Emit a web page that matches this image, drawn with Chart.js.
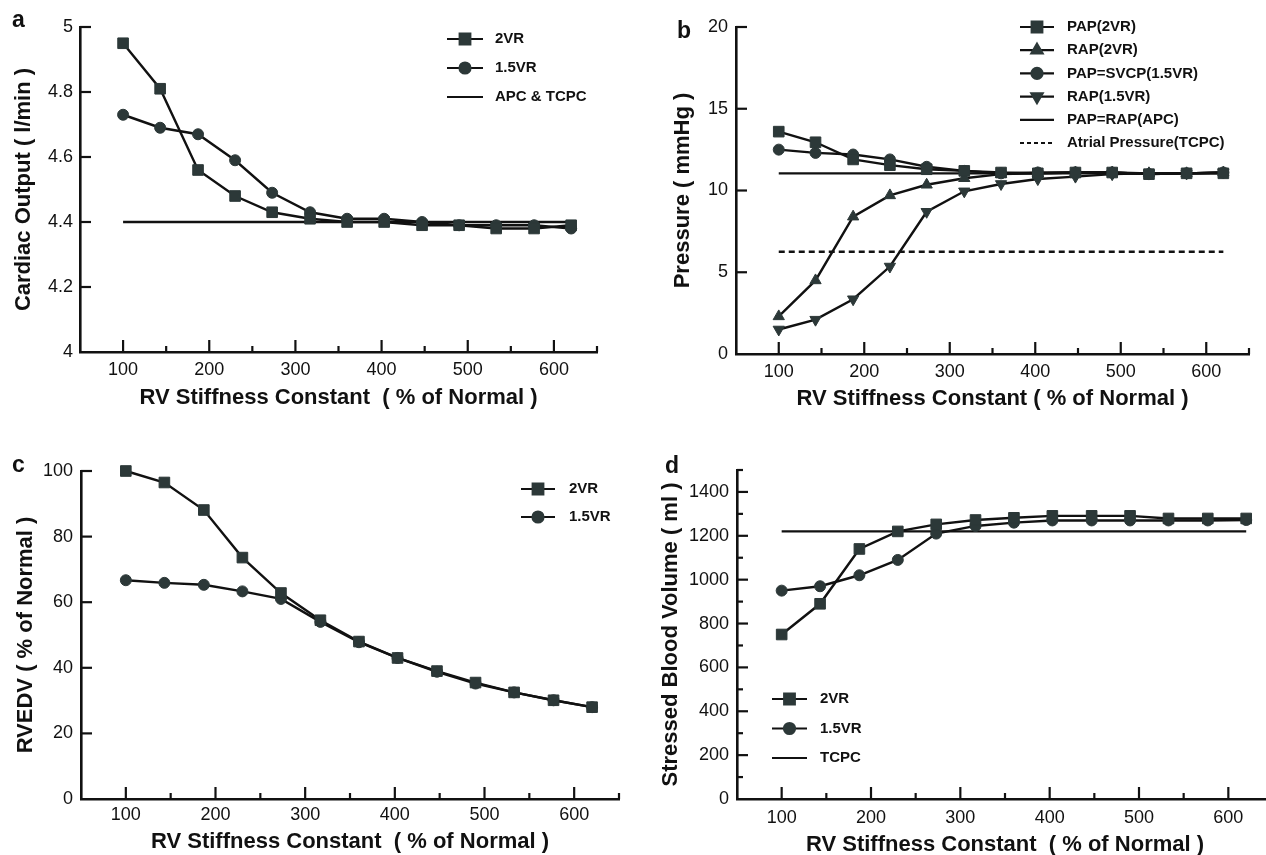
<!DOCTYPE html>
<html>
<head>
<meta charset="utf-8">
<script src="https://cdn.jsdelivr.net/npm/chart.js@4.4.1/dist/chart.umd.min.js"></script>
<style>
  html, body { margin: 0; padding: 0; background: #fff; overflow: hidden; width: 1266px; height: 855px; }
  .panel { position: absolute; }
  .tag { position: absolute; font: bold 23px 'Liberation Sans', Arial, sans-serif; color: #111; line-height: 26px; }
</style>
</head>
<body>
<div class="panel" style="left:0;top:0"><canvas id="chartA" width="633" height="425"></canvas></div>
<div class="panel" style="left:633px;top:0"><canvas id="chartB" width="633" height="425"></canvas></div>
<div class="panel" style="left:0;top:425px"><canvas id="chartC" width="633" height="430"></canvas></div>
<div class="panel" style="left:633px;top:425px"><canvas id="chartD" width="650" height="430"></canvas></div>
<div class="tag" style="left:12px;top:6px">a</div>
<div class="tag" style="left:677px;top:17px">b</div>
<div class="tag" style="left:12px;top:451px">c</div>
<div class="tag" style="left:665px;top:452px">d</div>

<script>
// RV stiffness constant (% of normal), shared by all four panels
const stiffness = [100, 143, 187, 230, 273, 317, 360, 403, 447, 490, 533, 577, 620];
const xTickValues = [100, 200, 300, 400, 500, 600];
const xMinorTicks = [150, 250, 350, 450, 550, 650];

// a: cardiac output (l/min)
const coTwoVR = [4.95, 4.81, 4.56, 4.48, 4.43, 4.41, 4.40, 4.40, 4.39, 4.39, 4.38, 4.38, 4.39];
const coOneHalfVR = [4.73, 4.69, 4.67, 4.59, 4.49, 4.43, 4.41, 4.41, 4.40, 4.39, 4.39, 4.39, 4.38];
const coApcTcpc = 4.40;
const coTicks = [4, 4.2, 4.4, 4.6, 4.8, 5];

// b: pressure (mmHg)
const papTwoVR = [13.6, 12.95, 11.9, 11.55, 11.3, 11.2, 11.1, 11.05, 11.1, 11.1, 11.0, 11.05, 11.05];
const rapTwoVR = [2.3, 4.5, 8.4, 9.7, 10.35, 10.75, 11.0, 11.05, 11.1, 11.1, 11.05, 11.05, 11.1];
const papSvcpOneHalfVR = [12.5, 12.3, 12.2, 11.9, 11.45, 11.2, 11.05, 11.1, 11.1, 11.1, 11.0, 11.05, 11.1];
const rapOneHalfVR = [1.5, 2.1, 3.35, 5.35, 8.7, 9.95, 10.4, 10.7, 10.85, 11.0, 11.05, 11.05, 11.1];
const papRapApc = 11.05;
const atrialTcpc = 6.25;
const pressureTicks = [0, 5, 10, 15, 20];

// c: RVEDV (% of normal)
const rvedvTwoVR = [100, 96.5, 88.1, 73.6, 62.8, 54.5, 48.0, 43.0, 39.0, 35.5, 32.5, 30.1, 28.0];
const rvedvOneHalfVR = [66.7, 65.9, 65.3, 63.3, 61.0, 54.0, 47.8, 43.0, 38.8, 35.2, 32.5, 30.1, 28.0];
const rvedvTicks = [0, 20, 40, 60, 80, 100];

// d: stressed blood volume (ml)
const sbvTwoVR = [750, 890, 1140, 1220, 1252, 1272, 1282, 1291, 1291, 1291, 1279, 1279, 1279];
const sbvOneHalfVR = [950, 970, 1020, 1090, 1210, 1245, 1260, 1270, 1270, 1270, 1270, 1270, 1272];
const sbvTcpc = 1220;
const sbvTicks = [0, 200, 400, 600, 800, 1000, 1200, 1400];
const sbvMinorTicks = [100, 300, 500, 700, 900, 1100, 1300, 1500];

const FONT = "'Liberation Sans', Arial, sans-serif";
const INK = '#111111';
const MARK = '#2c3838';
const TICK_SIZE = 18, TITLE_SIZE = 22;
Chart.defaults.font.family = FONT;
Chart.defaults.color = INK;

const square = { pointStyle: 'rect', pointRadius: 7.5 };
const circle = { pointStyle: 'circle', pointRadius: 5.5 };
const triUp = { pointStyle: 'triangle', pointRadius: 6.5 };
const triDown = { pointStyle: 'triangle', pointRadius: 6.5, pointRotation: 180 };

function series(label, values, marker) {
    return Object.assign({
        label,
        data: stiffness.map((x, i) => ({ x, y: values[i] })),
        borderColor: INK,
        borderWidth: 2.4,
        pointBackgroundColor: MARK,
        pointBorderColor: MARK,
        pointBorderWidth: 1,
        tension: 0,
        clip: false,
    }, marker);
}

function level(label, value, dash) {
    return {
        label,
        data: [{ x: stiffness[0], y: value }, { x: stiffness[stiffness.length - 1], y: value }],
        borderColor: INK,
        borderWidth: 2.4,
        borderDash: dash || [],
        pointRadius: 0,
        clip: false,
    };
}

// ticks drawn inward, from the library's scales
const inwardTicks = {
    id: 'inwardTicks',
    afterDraw(chart, args, opts) {
        const { ctx, chartArea } = chart;
        const xs = chart.scales.x, ys = chart.scales.y;
        ctx.save();
        ctx.strokeStyle = INK;
        ctx.lineWidth = 2.2;
        const mark = (x1, y1, x2, y2) => { ctx.beginPath(); ctx.moveTo(x1, y1); ctx.lineTo(x2, y2); ctx.stroke(); };
        xTickValues.forEach(v => { const p = xs.getPixelForValue(v); mark(p, chartArea.bottom, p, chartArea.bottom - 12); });
        xMinorTicks.forEach(v => { const p = xs.getPixelForValue(v); mark(p, chartArea.bottom, p, chartArea.bottom - 6); });
        opts.yMajor.forEach(v => { if (v === ys.min) return; const p = ys.getPixelForValue(v); mark(chartArea.left, p, chartArea.left + 11, p); });
        (opts.yMinor || []).forEach(v => { const p = ys.getPixelForValue(v); mark(chartArea.left, p, chartArea.left + 6, p); });
        ctx.restore();
    }
};

// legend drawn inside the plot area
const insideLegend = {
    id: 'insideLegend',
    afterDraw(chart, args, opts) {
        const { ctx } = chart;
        ctx.save();
        ctx.font = 'bold 15px ' + FONT;
        ctx.textBaseline = 'middle';
        ctx.textAlign = 'left';
        chart.data.datasets.forEach((ds, i) => {
            const y = opts.y + i * opts.dy;
            ctx.strokeStyle = INK;
            ctx.lineWidth = 2.2;
            ctx.setLineDash(ds.borderDash && ds.borderDash.length ? [4, 3] : []);
            ctx.beginPath();
            ctx.moveTo(opts.x, y);
            ctx.lineTo(opts.x + opts.len, y);
            ctx.stroke();
            ctx.setLineDash([]);
            if (ds.pointRadius) {
                ctx.fillStyle = MARK;
                ctx.strokeStyle = MARK;
                Chart.helpers.drawPoint(ctx, {
                    pointStyle: ds.pointStyle,
                    rotation: ds.pointRotation || 0,
                    radius: ds.pointRadius,
                    borderWidth: 1,
                }, opts.x + opts.len / 2, y);
            }
            ctx.fillStyle = INK;
            ctx.fillText(ds.label, opts.textX, y);
        });
        ctx.restore();
    }
};

function makeChart(id, p) {
    const tickLH = TICK_SIZE * 1.2, titleLH = TITLE_SIZE * 1.2;
    const xAxisH = p.box.y + p.box.h - p.area.b;
    return new Chart(document.getElementById(id), {
        type: 'line',
        data: { datasets: p.datasets },
        options: {
            responsive: false,
            animation: false,
            events: [],
            layout: { padding: { left: 0, top: p.area.t - p.box.y, right: p.box.x + p.box.w - p.area.r, bottom: 0 } },
            plugins: {
                legend: { display: false },
                tooltip: { enabled: false },
                inwardTicks: { yMajor: p.yTicks, yMinor: p.yMinor },
                insideLegend: {
                    x: p.legend.x - p.box.x, y: p.legend.y - p.box.y, dy: p.legend.dy,
                    len: p.legend.len, textX: p.legend.textX - p.box.x,
                },
            },
            scales: {
                x: {
                    type: 'linear', min: 50, max: 650,
                    afterBuildTicks: s => { s.ticks = xTickValues.map(v => ({ value: v })); },
                    afterFit: s => { s.height = xAxisH; },
                    grid: { display: false, drawTicks: false },
                    border: { display: true, color: INK, width: 2.6 },
                    ticks: { font: { size: TICK_SIZE }, padding: p.xLabelY - p.area.b - tickLH / 2, maxRotation: 0, autoSkip: false, callback: v => String(v) },
                    title: { display: true, text: p.xTitle, font: { size: TITLE_SIZE, weight: 'bold' },
                        padding: { top: 0, bottom: p.box.y + p.box.h - p.xTitleY - titleLH / 2 } },
                },
                y: {
                    type: 'linear', min: p.yMin, max: p.yMax,
                    afterBuildTicks: s => { s.ticks = p.yTicks.map(v => ({ value: v })); },
                    afterFit: s => { s.width = p.area.l - p.box.x; },
                    grid: { display: false, drawTicks: false },
                    border: { display: true, color: INK, width: 2.6 },
                    ticks: { font: { size: TICK_SIZE }, padding: p.area.l - p.yLabelRight, autoSkip: false, callback: v => String(v) },
                    title: { display: true, text: p.yTitle, font: { size: TITLE_SIZE, weight: 'bold' },
                        padding: { top: p.yTitleX - p.box.x - titleLH / 2, bottom: 0 } },
                },
            },
        },
        plugins: [inwardTicks, insideLegend],
    });
}

makeChart('chartA', {
    box: { x: 0, y: 0, w: 633, h: 425 },
    area: { l: 80, r: 597, t: 27, b: 352 },
    xLabelY: 370, xTitleY: 398, yTitleX: 24, yLabelRight: 73,
    xTitle: 'RV Stiffness Constant  ( % of Normal )',
    yTitle: 'Cardiac Output ( l/min )',
    yMin: 4, yMax: 5, yTicks: coTicks,
    legend: { x: 447, y: 39, dy: 29, len: 36, textX: 495 },
    datasets: [
        series('2VR', coTwoVR, square),
        series('1.5VR', coOneHalfVR, circle),
        level('APC & TCPC', coApcTcpc),
    ],
});

makeChart('chartB', {
    box: { x: 633, y: 0, w: 633, h: 425 },
    area: { l: 736, r: 1249, t: 27, b: 354 },
    xLabelY: 372, xTitleY: 399, yTitleX: 683, yLabelRight: 728,
    xTitle: 'RV Stiffness Constant ( % of Normal )',
    yTitle: 'Pressure ( mmHg )',
    yMin: 0, yMax: 20, yTicks: pressureTicks,
    legend: { x: 1020, y: 27, dy: 23.2, len: 34, textX: 1067 },
    datasets: [
        series('PAP(2VR)', papTwoVR, square),
        series('RAP(2VR)', rapTwoVR, triUp),
        series('PAP=SVCP(1.5VR)', papSvcpOneHalfVR, circle),
        series('RAP(1.5VR)', rapOneHalfVR, triDown),
        level('PAP=RAP(APC)', papRapApc),
        level('Atrial Pressure(TCPC)', atrialTcpc, [6, 4]),
    ],
});

makeChart('chartC', {
    box: { x: 0, y: 425, w: 633, h: 430 },
    area: { l: 81, r: 619, t: 471, b: 799 },
    xLabelY: 815, xTitleY: 842, yTitleX: 26, yLabelRight: 73,
    xTitle: 'RV Stiffness Constant  ( % of Normal )',
    yTitle: 'RVEDV ( % of Normal )',
    yMin: 0, yMax: 100, yTicks: rvedvTicks,
    legend: { x: 521, y: 489, dy: 28, len: 34, textX: 569 },
    datasets: [
        series('2VR', rvedvTwoVR, square),
        series('1.5VR', rvedvOneHalfVR, circle),
    ],
});

makeChart('chartD', {
    box: { x: 633, y: 425, w: 650, h: 430 },
    area: { l: 737, r: 1273, t: 470, b: 799 },
    xLabelY: 818, xTitleY: 845, yTitleX: 671, yLabelRight: 729,
    xTitle: 'RV Stiffness Constant  ( % of Normal )',
    yTitle: 'Stressed Blood Volume ( ml )',
    yMin: 0, yMax: 1500, yTicks: sbvTicks, yMinor: sbvMinorTicks,
    legend: { x: 772, y: 699, dy: 29.5, len: 35, textX: 820 },
    datasets: [
        series('2VR', sbvTwoVR, square),
        series('1.5VR', sbvOneHalfVR, circle),
        level('TCPC', sbvTcpc),
    ],
});
</script>
</body>
</html>
